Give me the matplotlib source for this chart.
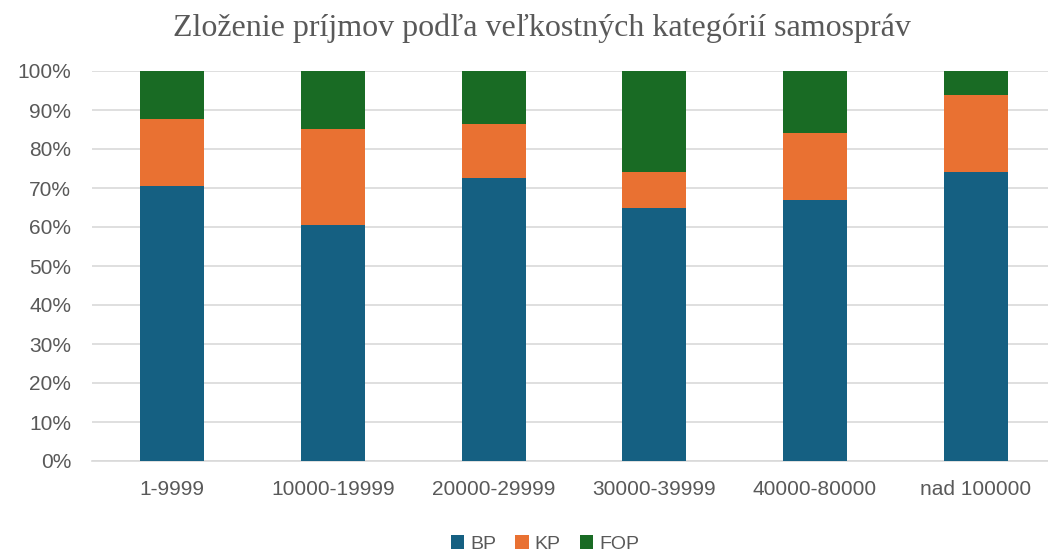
import numpy as np
import matplotlib
matplotlib.use("Agg")
from matplotlib import pyplot as plt
from matplotlib.ticker import PercentFormatter

# Velkostne kategorie samosprav a podiely prijmov (%)
kategorie = ["1-9999", "10000-19999", "20000-29999", "30000-39999", "40000-80000", "nad 100000"]
bp = [70.4, 60.6, 72.5, 64.9, 66.8, 74.2]
kp = [17.3, 24.6, 13.9, 9.3, 17.2, 19.6]
fop = [100 - b - k for b, k in zip(bp, kp)]

farby = {"BP": "#156082", "KP": "#E97132", "FOP": "#196B24"}
sivy_text = "#595959"

fig = plt.figure(figsize=(10.48, 5.55), dpi=100)
ax = fig.add_axes([92 / 1048, 1 - 461 / 555, 1 - 92 / 1048, (461 - 71) / 555])

x = np.arange(len(kategorie))
sirka = 0.4
ax.bar(x, bp, sirka, color=farby["BP"], label="BP", zorder=3)
ax.bar(x, kp, sirka, bottom=bp, color=farby["KP"], label="KP", zorder=3)
ax.bar(x, fop, sirka, bottom=np.add(bp, kp), color=farby["FOP"], label="FOP", zorder=3)

ax.set_xlim(-0.5, 5.45)
ax.set_ylim(0, 100)
ax.set_yticks(np.arange(0, 101, 10))
ax.yaxis.set_major_formatter(PercentFormatter(decimals=0))
ax.set_xticks(x)
ax.set_xticklabels(kategorie)
ax.tick_params(length=0, labelsize=15, labelcolor=sivy_text)
ax.tick_params(axis="y", pad=15)
ax.tick_params(axis="x", pad=14)
for lbl in ax.get_xticklabels() + ax.get_yticklabels():
    lbl.set_fontfamily("Liberation Sans")

ax.grid(axis="y", color="#d9d9d9", linewidth=1.2, zorder=0)
for s in ["top", "right", "left"]:
    ax.spines[s].set_visible(False)
ax.spines["bottom"].set_color("#d9d9d9")
ax.spines["bottom"].set_linewidth(1.2)

fig.text(542 / 1048, 1 - 28 / 555, "Zloženie príjmov podľa veľkostných kategórií samospráv",
         ha="center", va="center", fontsize=23, color=sivy_text, family="Liberation Serif")

fig.legend(loc="center", bbox_to_anchor=(545 / 1048, 1 - 544 / 555), ncol=3, frameon=False,
           prop={"family": "Liberation Sans", "size": 14}, labelcolor=sivy_text,
           handlelength=0.68, handleheight=0.68, handletextpad=0.3, columnspacing=1.0)

plt.savefig("out.png", dpi=100)
